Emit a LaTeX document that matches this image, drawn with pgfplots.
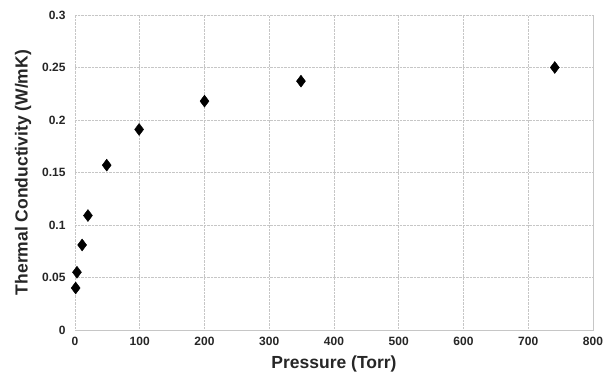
\documentclass[border=0pt]{standalone}
\usepackage{fontspec}
\setmainfont{Liberation Sans}
\usepackage{pgfplots}
\pgfplotsset{compat=1.18}
\begin{document}
\begin{tikzpicture}
\begin{axis}[
  scale only axis,
  width=518pt, height=315pt,
  xmin=0, xmax=800, ymin=0, ymax=0.3,
  xtick={0,100,...,800},
  ytick={0,0.05,0.1,0.15,0.2,0.25,0.3},
  yticklabels={0,0.05,0.1,0.15,0.2,0.25,0.3},
  xticklabels={0,100,200,300,400,500,600,700,800},
  tick label style={font=\bfseries\fontsize{12}{14}\selectfont, text=black!85},
  xticklabel style={yshift=-4pt},
  yticklabel style={xshift=-6pt},
  major tick length=0pt,
  xmajorgrids, ymajorgrids,
  grid style={gray!45, densely dotted, line width=0.6pt},
  axis line style={gray!45, densely dotted},
  xlabel={Pressure (Torr)},
  ylabel={Thermal Conductivity (W/mK)},
  label style={font=\bfseries\fontsize{17.5}{19}\selectfont, text=black!85},
  xlabel style={yshift=-3pt},
  ylabel style={yshift=4pt},
  clip=false,
]
\addplot[only marks, mark=diamond*, mark size=6pt, black, fill=black] coordinates {
  (1,0.040) (3,0.055) (11,0.081) (20,0.109) (49,0.157) (99,0.191)
  (200,0.218) (349,0.237) (741,0.250)
};
\end{axis}
\path[use as bounding box] ([shift={(-75pt,-47pt)}]current axis.south west) rectangle ([shift={(15pt,15pt)}]current axis.north east);
\end{tikzpicture}
\end{document}
